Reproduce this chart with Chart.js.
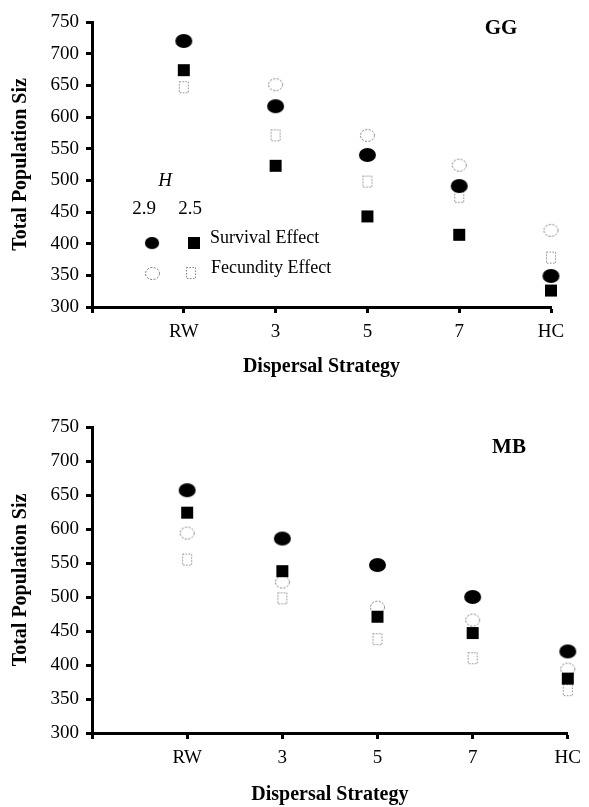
<!DOCTYPE html>
<html>
<head>
<meta charset="utf-8">
<title>Total Population Size by Dispersal Strategy</title>
<script src="https://cdn.jsdelivr.net/npm/chart.js@4.4.1/dist/chart.umd.min.js"></script>
<style>
  body { margin: 0; background: #fff; }
  #wrap { position: relative; width: 589px; height: 807px; }
  canvas { position: absolute; left: 0; }
  #gg-chart { top: 0; }
  #mb-chart { top: 400px; }
</style>
</head>
<body>
<div id="wrap">
  <canvas id="gg-chart" width="589" height="390"></canvas>
  <canvas id="mb-chart" width="589" height="407"></canvas>
</div>
<script>
'use strict';

// ******* DATA *********
let strategies = ['RW', '3', '5', '7', 'HC'];
let yMin = 300;
let yMax = 750;
let yStep = 50;

// GG panel (H = 2.9 circles, H = 2.5 squares)
let ggSurvival29 = [720, 617, 540, 491, 349];
let ggSurvival25 = [674, 523, 443, 414, 326];
let ggFecundity29 = [null, 651, 571, 524, 421];
let ggFecundity25 = [647, 571, 498, 474, 378];

// MB panel
let mbSurvival29 = [657, 586, 547, 500, 420];
let mbSurvival25 = [624, 538, 471, 447, 380];
let mbFecundity29 = [594, 522, 485, 466, 394];
let mbFecundity25 = [555, 498, 438, 410, 363];

// ******* FONTS *********
let serif = '"Liberation Serif", "Times New Roman", serif';

// ******* MARKERS *******
function makeMarker(w, h, drawFn) {
  let c = document.createElement('canvas');
  c.width = w + 2;
  c.height = h + 2;
  let g = c.getContext('2d');
  drawFn(g, c.width / 2, c.height / 2, w, h);
  return c;
}

let filledCircle = makeMarker(17, 14, function (g, cx, cy, w, h) {
  g.fillStyle = '#000';
  g.beginPath();
  g.ellipse(cx, cy, w / 2, h / 2, 0, 0, Math.PI * 2);
  g.fill();
});

let filledSquare = makeMarker(12, 12, function (g, cx, cy, w, h) {
  g.fillStyle = '#000';
  g.fillRect(cx - w / 2, cy - h / 2, w, h);
});

let openCircle = makeMarker(15, 13, function (g, cx, cy, w, h) {
  g.strokeStyle = '#777';
  g.lineWidth = 1;
  g.setLineDash([2, 1.5]);
  g.beginPath();
  g.ellipse(cx, cy, w / 2 - 0.5, h / 2 - 0.5, 0, 0, Math.PI * 2);
  g.stroke();
});

let openSquare = makeMarker(10, 12, function (g, cx, cy, w, h) {
  g.strokeStyle = '#888';
  g.lineWidth = 1;
  g.setLineDash([1.5, 1.5]);
  g.strokeRect(cx - w / 2 + 0.5, cy - h / 2 + 0.5, w - 1, h - 1);
});

// ****** HELPER FUNCTIONS ******
function toPoints(values) {
  let pts = [];
  for (let i = 0; i < values.length; i++) {
    if (values[i] !== null) {
      pts.push({ x: i + 1, y: values[i] });
    }
  }
  return pts;
}

function makeDataset(label, values, marker) {
  return {
    label: label,
    data: toPoints(values),
    pointStyle: marker,
    pointRadius: 8,
    showLine: false,
    clip: false
  };
}

// panel letters (GG / MB)
let panelLabel = {
  id: 'panelLabel',
  afterDraw(chart, args, opts) {
    let ctx = chart.ctx;
    ctx.save();
    ctx.font = 'bold 21px ' + serif;
    ctx.fillStyle = '#000';
    ctx.textAlign = 'center';
    ctx.textBaseline = 'middle';
    ctx.fillText(opts.text, opts.x, opts.y);
    ctx.restore();
  }
};

// the H 2.9 / 2.5 key inside the top panel
let keyBox = {
  id: 'keyBox',
  afterDraw(chart, args, opts) {
    if (!opts.show) {
      return;
    }
    let ctx = chart.ctx;
    ctx.save();
    ctx.fillStyle = '#000';
    ctx.textBaseline = 'middle';
    ctx.textAlign = 'center';
    ctx.font = 'italic 19px ' + serif;
    ctx.fillText('H', 165, 181);
    ctx.font = '19px ' + serif;
    ctx.fillText('2.9', 144, 209);
    ctx.fillText('2.5', 190, 209);

    ctx.drawImage(filledCircle, 152 - 8, 243 - 7, 16, 14);
    ctx.drawImage(filledSquare, 194 - 7, 243 - 7);
    ctx.drawImage(openCircle, 152 - 8, 273 - 7);
    ctx.drawImage(openSquare, 191 - 6, 273 - 7);

    ctx.textAlign = 'left';
    ctx.font = '18px ' + serif;
    ctx.fillText('Survival Effect', 210, 238);
    ctx.fillText('Fecundity Effect', 211, 268);
    ctx.restore();
  }
};

function buildChart(canvasId, sets, areaBottom, padding, xTitlePad, label, showKey) {
  let canvas = document.getElementById(canvasId);
  let datasets = [
    makeDataset('Survival Effect, H 2.9', sets[0], filledCircle),
    makeDataset('Survival Effect, H 2.5', sets[1], filledSquare),
    makeDataset('Fecundity Effect, H 2.9', sets[2], openCircle),
    makeDataset('Fecundity Effect, H 2.5', sets[3], openSquare)
  ];

  return new Chart(canvas, { //eslint-disable-line
    type: 'scatter',
    data: { datasets: datasets },
    plugins: [panelLabel, keyBox],
    options: {
      responsive: false,
      animation: false,
      events: [],
      layout: { padding: padding },
      plugins: {
        legend: { display: false },
        tooltip: { enabled: false },
        panelLabel: label,
        keyBox: { show: showKey }
      },
      scales: {
        x: {
          type: 'linear',
          min: 0,
          max: strategies.length,
          afterBuildTicks: function (axis) {
            let t = [];
            for (let i = 0; i <= strategies.length; i++) {
              t.push({ value: i });
            }
            axis.ticks = t;
          },
          afterFit: function (axis) {
            axis.height = canvas.height - areaBottom;
          },
          ticks: {
            callback: function (v) { return strategies[v - 1] || ''; },
            color: '#000',
            font: { family: serif, size: 19 },
            padding: 8,
            maxRotation: 0,
            autoSkip: false
          },
          grid: { drawOnChartArea: false, tickLength: 6, tickWidth: 3, tickColor: '#000' },
          border: { color: '#000', width: 3 },
          title: {
            display: true,
            text: 'Dispersal Strategy',
            color: '#000',
            font: { family: serif, size: 20, weight: 'bold' },
            padding: { top: 0, bottom: xTitlePad }
          }
        },
        y: {
          min: yMin,
          max: yMax,
          afterFit: function (axis) {
            axis.width = 92;
          },
          ticks: {
            stepSize: yStep,
            color: '#000',
            font: { family: serif, size: 19 },
            padding: 7
          },
          grid: { drawOnChartArea: false, tickLength: 6, tickWidth: 3, tickColor: '#000' },
          border: { color: '#000', width: 3 },
          title: {
            display: true,
            text: 'Total Population Siz',
            color: '#000',
            font: { family: serif, size: 20, weight: 'bold' },
            padding: { top: 9, bottom: 0 }
          }
        }
      }
    }
  });
}

// ***** EXECUTABLE CODE ******
buildChart('gg-chart',
  [ggSurvival29, ggSurvival25, ggFecundity29, ggFecundity25],
  307, { top: 22, right: 38, left: 0, bottom: 0 }, 11,
  { text: 'GG', x: 501, y: 29 }, true);

buildChart('mb-chart',
  [mbSurvival29, mbSurvival25, mbFecundity29, mbFecundity25],
  333, { top: 27, right: 12, left: 0, bottom: 0 }, 0,
  { text: 'MB', x: 509, y: 48 }, false);
</script>
</body>
</html>
